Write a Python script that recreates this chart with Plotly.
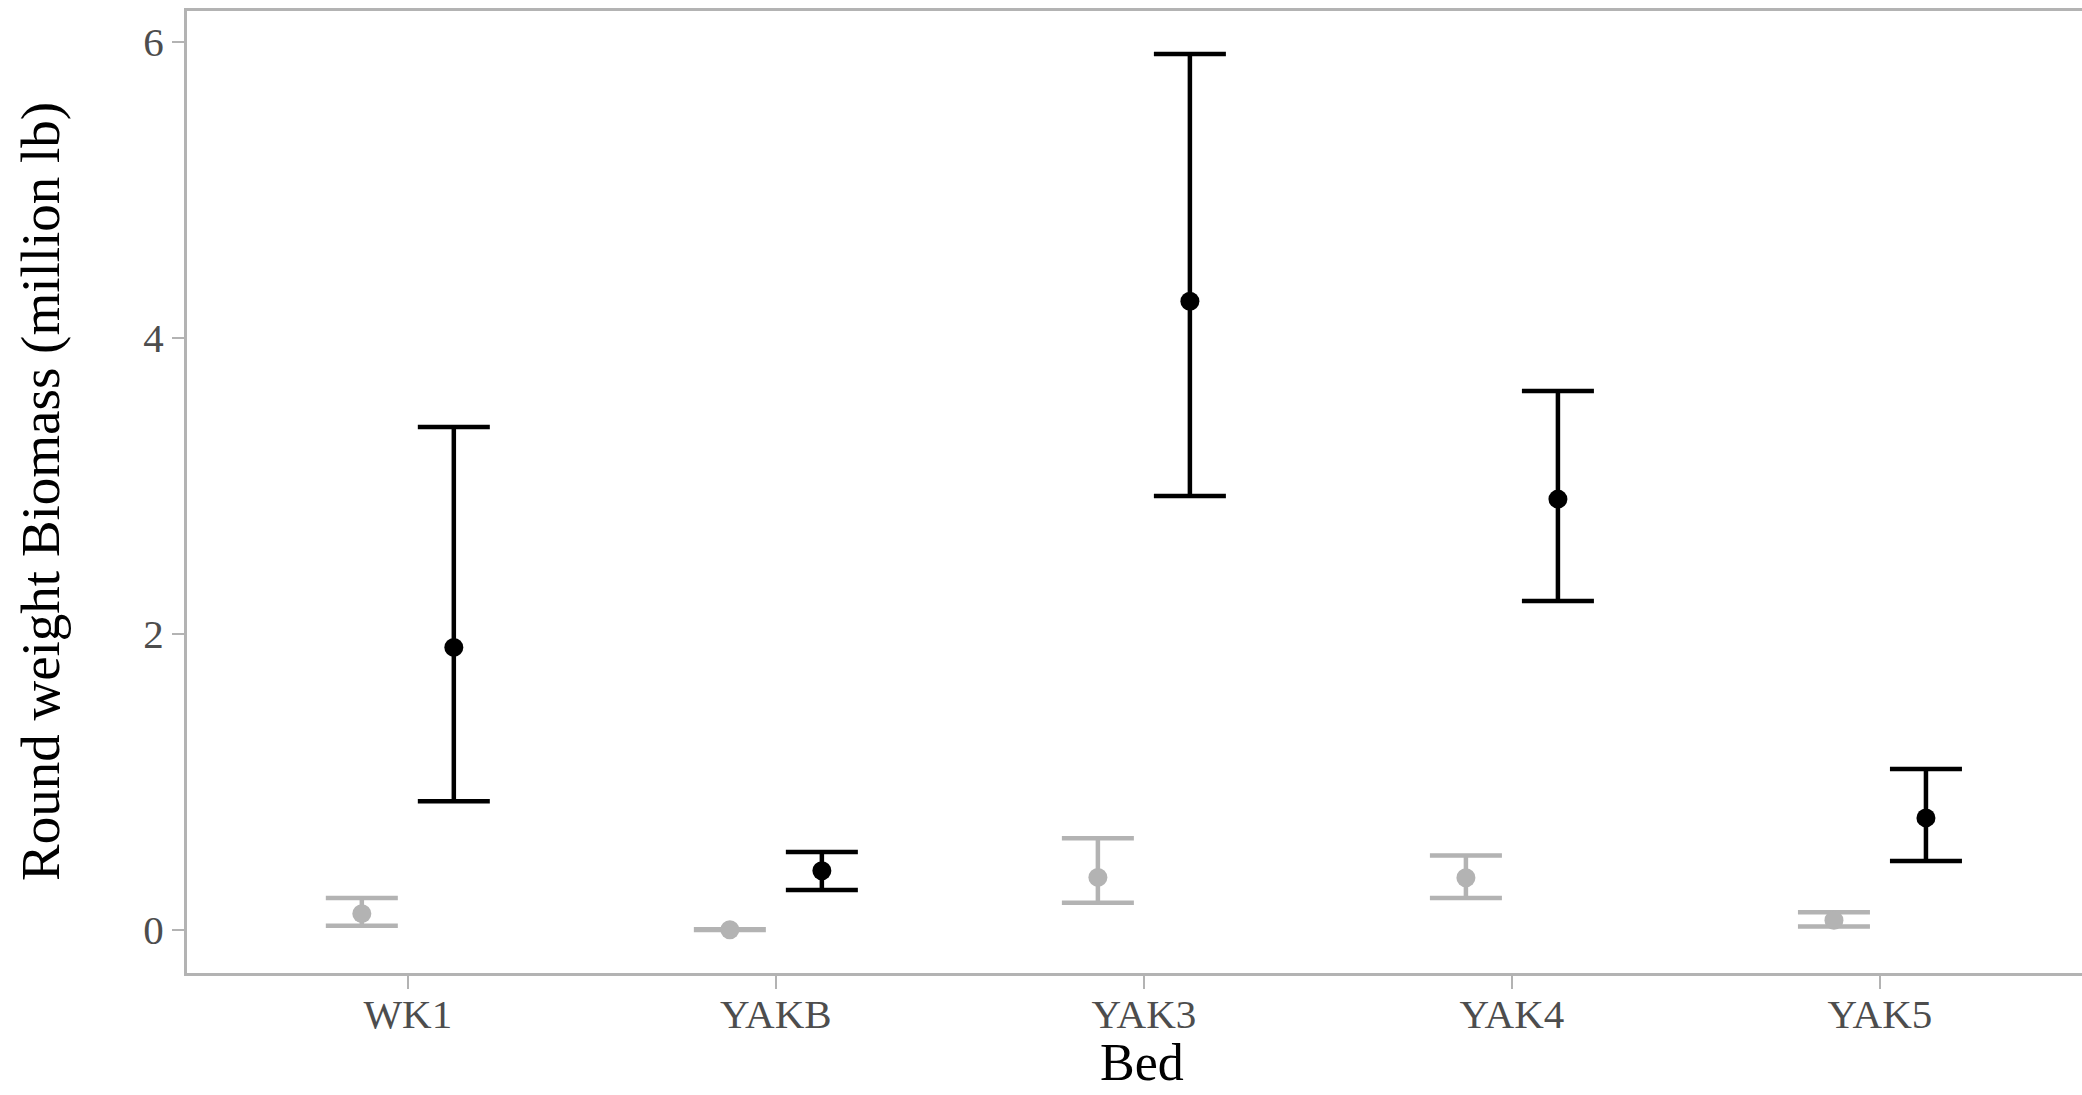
import plotly.graph_objects as go

beds = ["WK1", "YAKB", "YAK3", "YAK4", "YAK5"]

# grey series (left dodge)
grey_mean = [0.111, 0.002, 0.356, 0.353, 0.066]
grey_upper = [0.216, 0.005, 0.620, 0.504, 0.120]
grey_lower = [0.030, 0.000, 0.184, 0.216, 0.025]

# black series (right dodge)
black_mean = [1.910, 0.401, 4.249, 2.912, 0.758]
black_upper = [3.400, 0.527, 5.920, 3.643, 1.089]
black_lower = [0.871, 0.270, 2.933, 2.224, 0.466]

y_ticks = [0, 2, 4, 6]

dodge = 0.125
idx = list(range(len(beds)))

GREY = "#b3b3b3"
BLACK = "#000000"
FONT = "Liberation Serif"

fig = go.Figure()


def add_series(mean, upper, lower, offset, color):
    xs = [i + offset for i in idx]
    fig.add_trace(go.Scatter(
        x=xs, y=mean, mode="markers",
        marker=dict(color=color, size=19, line=dict(width=0)),
        error_y=dict(
            type="data", symmetric=False,
            array=[u - m for u, m in zip(upper, mean)],
            arrayminus=[m - l for m, l in zip(mean, lower)],
            color=color, thickness=4.5, width=36,
        ),
        showlegend=False, hoverinfo="skip",
    ))


add_series(grey_mean, grey_upper, grey_lower, -dodge, GREY)
add_series(black_mean, black_upper, black_lower, dodge, BLACK)

fig.update_layout(
    width=2082, height=1095,
    margin=dict(l=187, r=0, t=11, b=122),
    plot_bgcolor="white", paper_bgcolor="white",
    font=dict(family=FONT, color="#4d4d4d", size=41),
    xaxis=dict(
        range=[-0.6, 4.549],
        tickmode="array", tickvals=idx, ticktext=beds,
        showgrid=False, zeroline=False,
        showline=True, linecolor=GREY, linewidth=3, mirror=True,
        ticks="outside", ticklen=13, tickwidth=2, tickcolor=GREY,
        ticklabelstandoff=-10,
        tickfont=dict(family=FONT, size=41, color="#4d4d4d"),
    ),
    yaxis=dict(
        range=[-0.29, 6.21],
        tickmode="array", tickvals=y_ticks, ticktext=[str(v) for v in y_ticks],
        showgrid=False, zeroline=False,
        showline=True, linecolor=GREY, linewidth=3, mirror=False,
        ticks="outside", ticklen=12, tickwidth=2, tickcolor=GREY,
        tickfont=dict(family=FONT, size=41, color="#4d4d4d"),
    ),
    annotations=[
        dict(text="Bed", xref="paper", yref="paper",
             x=(1142 - 187) / 1895, y=-0.093, xanchor="center", yanchor="middle",
             showarrow=False, font=dict(family=FONT, size=52, color="black")),
        dict(text="Round weight Biomass (million lb)", xref="paper", yref="paper",
             x=(40 - 187) / 1895, y=0.5, xanchor="center", yanchor="middle", textangle=-90,
             showarrow=False, font=dict(family=FONT, size=55, color="black")),
    ],
)

fig.write_html(
    "out.html",
    config={"displayModeBar": False},
    post_script="document.body.style.margin='0';document.body.style.overflow='hidden';",
)
